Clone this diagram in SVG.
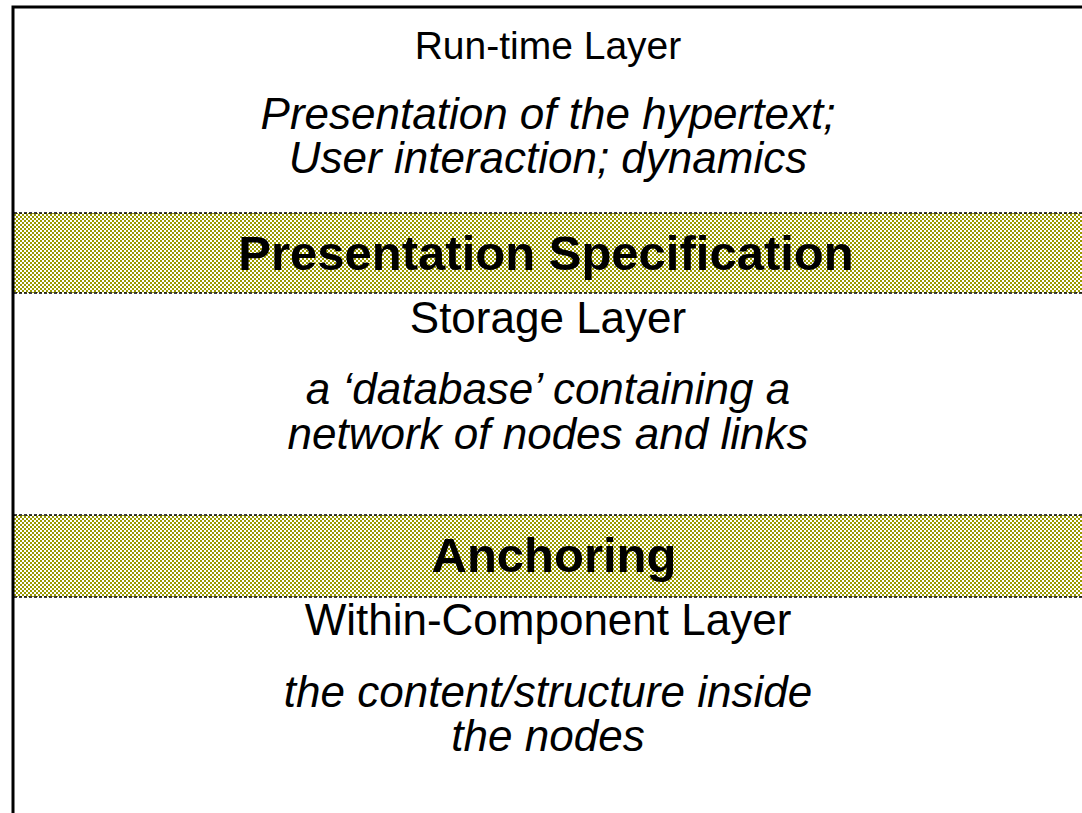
<svg xmlns="http://www.w3.org/2000/svg" width="1082" height="813" viewBox="0 0 1082 813">
<style>
.t{font-family:"Liberation Sans",Arial,sans-serif;font-size:44px;text-anchor:middle;fill:#000}
.i{font-style:italic}
.b{font-weight:bold;font-size:49px}
.edge{stroke:#000;stroke-width:1.5;stroke-dasharray:3 2}
</style>
<defs>
<pattern id="chk" width="4" height="4" patternUnits="userSpaceOnUse">
<rect width="4" height="4" fill="#ffffff"/>
<rect x="0" y="0" width="2" height="2" fill="#999900"/>
<rect x="2" y="2" width="2" height="2" fill="#999900"/>
</pattern>
</defs>
<rect width="1082" height="813" fill="#fff"/>
<g id="band1">
<rect x="14" y="213" width="1068" height="80" fill="url(#chk)"/>
<line class="edge" x1="14" y1="213" x2="1082" y2="213"/>
<line class="edge" x1="14" y1="293" x2="1082" y2="293"/>
<text class="t b" x="546" y="270">Presentation Specification</text>
</g>
<g id="band2">
<rect x="14" y="515" width="1068" height="82" fill="url(#chk)"/>
<line class="edge" x1="14" y1="515" x2="1082" y2="515"/>
<line class="edge" x1="14" y1="597" x2="1082" y2="597"/>
<text class="t b" x="554" y="572">Anchoring</text>
</g>
<g id="runtime">
<text class="t" x="548" y="59" style="font-size:39px">Run-time Layer</text>
<text class="t i" x="548" y="129">Presentation of the hypertext;</text>
<text class="t i" x="548" y="173">User interaction; dynamics</text>
</g>
<g id="storage">
<text class="t" x="548" y="333">Storage Layer</text>
<text class="t i" x="548" y="404">a ‘database’ containing a</text>
<text class="t i" x="548" y="449">network of nodes and links</text>
</g>
<g id="within">
<text class="t" x="548" y="635">Within-Component Layer</text>
<text class="t i" x="548" y="707">the content/structure inside</text>
<text class="t i" x="548" y="751">the nodes</text>
</g>
<g id="frame">
<path d="M13 813 V7 H1082" fill="none" stroke="#000" stroke-width="3"/>
</g>
</svg>
